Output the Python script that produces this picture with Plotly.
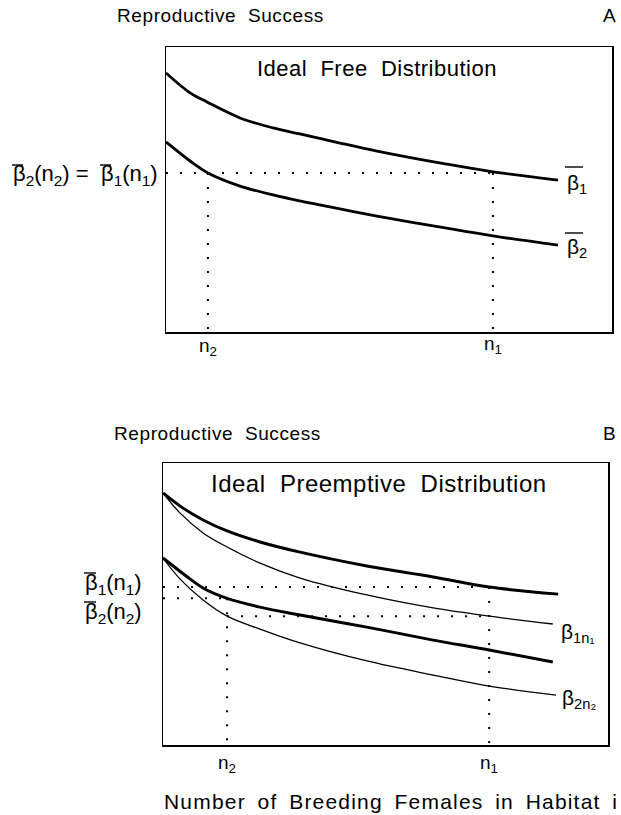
import plotly.graph_objects as go

W, H = 621, 815
FONT = "Liberation Sans, Arial, Helvetica, sans-serif"
NB = "\u00a0"

# ---------------- Panel A: Ideal Free Distribution ----------------
a_x_upper = [0, 5.4, 9.2, 16.6, 24.0, 30.0, 39.0, 47.3, 62.6, 73.3, 87.9]
a_y_upper = [90.9, 83.9, 80.7, 75.1, 71.6, 69.5, 66.3, 63.5, 59.0, 56.2, 53.3]
a_x_lower = [0, 5.4, 9.4, 16.6, 24.0, 30.0, 39.0, 47.3, 62.6, 73.3, 87.9]
a_y_lower = [66.7, 60.0, 55.8, 51.2, 48.1, 46.0, 43.2, 40.7, 36.5, 33.7, 30.5]
a_n2, a_n1 = 9.4, 73.3
a_level = 55.8

# ---------------- Panel B: Ideal Preemptive Distribution ----------------
b_x_mean1 = [0, 4.5, 9.0, 14.4, 21.8, 30.8, 45.8, 60.7, 73.3, 88.8]
b_y_mean1 = [89.4, 84.0, 79.8, 75.9, 72.0, 68.4, 63.5, 59.6, 56.0, 53.5]
b_x_marg1 = [0, 3.8, 9.0, 14.4, 21.8, 30.8, 45.8, 60.7, 73.3, 87.6]
b_y_marg1 = [89.4, 82.3, 75.2, 70.2, 64.5, 59.2, 53.2, 48.6, 45.7, 42.9]
b_x_mean2 = [0, 4.9, 9.4, 14.4, 21.8, 30.8, 45.8, 60.7, 73.3, 87.6]
b_y_mean2 = [66.3, 60.3, 55.3, 52.0, 48.9, 46.1, 41.8, 37.2, 33.7, 29.4]
b_x_marg2 = [0, 3.8, 9.0, 14.4, 21.8, 30.8, 45.8, 60.7, 73.3, 88.3]
b_y_marg2 = [66.3, 58.9, 51.4, 45.7, 41.1, 36.2, 29.8, 24.8, 20.9, 17.7]
b_n2, b_n1 = 14.4, 73.3
b_level1 = 56.0   # mean beta1 at n1
b_level2 = 52.0   # mean beta2 at n2
b_level3 = 45.7   # marginal value at n1 / n2

x_tick_labels = ["n<sub>2</sub>", "n<sub>1</sub>"]


def pxx(p):
    return p / W


def pxy(p):
    return 1 - p / H


def spaced(t, ls, gap=NB + NB):
    t = t.replace(" ", gap)
    return '<span style="letter-spacing:%.1fpx">%s</span>' % (ls, t)


fig = go.Figure()

thick = dict(color="black", width=3)
thin = dict(color="black", width=1.3)
dot = dict(color="black", width=2, dash="2px,12px")


def add(x, y, line, ax, smooth=True):
    ln = dict(line)
    if smooth:
        ln.update(shape="spline", smoothing=1.0)
    fig.add_trace(go.Scatter(x=x, y=y, mode="lines", line=ln,
                             xaxis="x" + ax, yaxis="y" + ax, hoverinfo="skip", showlegend=False))


# Panel A curves
add(a_x_upper, a_y_upper, dict(thick, width=2.8), "")
add(a_x_lower, a_y_lower, dict(thick, width=2.8), "")
add([0, a_n1], [a_level, a_level], dot, "", False)
add([a_n2, a_n2], [a_level, 0], dot, "", False)
add([a_n1, a_n1], [a_level, 0], dot, "", False)

# Panel B curves
add(b_x_mean1, b_y_mean1, thick, "2")
add(b_x_marg1, b_y_marg1, thin, "2")
add(b_x_mean2, b_y_mean2, thick, "2")
add(b_x_marg2, b_y_marg2, thin, "2")
add([0, b_n1], [b_level1, b_level1], dot, "2", False)
add([0, b_n2], [b_level2, b_level2], dot, "2", False)
add([b_n2, b_n1], [b_level3, b_level3], dot, "2", False)
add([b_n2, b_n2], [b_level2, 0], dot, "2", False)
add([b_n1, b_n1], [b_level1, 0], dot, "2", False)

axis_common = dict(range=[0, 100], showgrid=False, zeroline=False, showticklabels=False,
                   ticks="", showline=True, mirror=True, linecolor="black", linewidth=1.5, fixedrange=True)

fig.update_layout(
    width=W, height=H,
    margin=dict(l=0, r=0, t=0, b=0),
    paper_bgcolor="white", plot_bgcolor="white",
    font=dict(family=FONT, color="black"),
    xaxis=dict(axis_common, domain=[pxx(166), pxx(612)], anchor="y"),
    yaxis=dict(axis_common, domain=[pxy(332), pxy(47)], anchor="x"),
    xaxis2=dict(axis_common, domain=[pxx(163), pxx(608)], anchor="y2"),
    yaxis2=dict(axis_common, domain=[pxy(745), pxy(463)], anchor="x2"),
)

ann = []
shapes = []


def text(t, x, y, size, xanchor="center", yanchor="middle", xref="paper", yref="paper"):
    ann.append(dict(text=t, x=x, y=y, xref=xref, yref=yref, xanchor=xanchor, yanchor=yanchor,
                    showarrow=False, font=dict(family=FONT, size=size, color="black")))


def bar(x0, x1, y):
    shapes.append(dict(type="line", xref="paper", yref="paper", x0=pxx(x0), x1=pxx(x1),
                       y0=pxy(y), y1=pxy(y), line=dict(color="black", width=1.4)))


# Panel A texts
text(spaced("Reproductive Success", 0.6), pxx(115), pxy(15), 19, xanchor="left")
text("A", pxx(618), pxy(15), 19, xanchor="right")
text(spaced("Ideal Free Distribution", 0.5), pxx(377), pxy(69), 22)
text("β<sub>2</sub>(n<sub>2</sub>)" + NB + "=", pxx(11), pxy(175), 22, xanchor="left")
text("β<sub>1</sub>(n<sub>1</sub>)", pxx(99), pxy(175), 22, xanchor="left")
bar(12, 23, 165)
bar(100, 111, 165)
text("β<sub>1</sub>", pxx(565), pxy(184), 21, xanchor="left")
text("β<sub>2</sub>", pxx(565), pxy(248), 21, xanchor="left")
bar(565, 583, 167)
bar(565, 583, 233)
text(x_tick_labels[0], a_n2, pxy(347), 19, xref="x", yref="paper")
text(x_tick_labels[1], a_n1, pxy(345), 19, xref="x", yref="paper")

# Panel B texts
text(spaced("Reproductive Success", 0.6), pxx(112), pxy(433), 19, xanchor="left")
text("B", pxx(618), pxy(433), 19, xanchor="right")
text(spaced("Ideal Preemptive Distribution", 0.5), pxx(379), pxy(483), 24)
text("β<sub>1</sub>(n<sub>1</sub>)", pxx(83), pxy(584), 22, xanchor="left")
text("β<sub>2</sub>(n<sub>2</sub>)", pxx(83), pxy(613), 22, xanchor="left")
bar(84, 96, 573)
bar(84, 96, 602)
text("β<sub>1n₁</sub>", pxx(559), pxy(633), 21, xanchor="left")
text("β<sub>2n₂</sub>", pxx(560), pxy(699), 21, xanchor="left")
text(x_tick_labels[0], b_n2, pxy(764), 19, xref="x2", yref="paper")
text(x_tick_labels[1], b_n1, pxy(764), 19, xref="x2", yref="paper")
text(spaced("Number of Breeding Females in Habitat i", 1.2, "\u2002"), pxx(162), pxy(801), 21, xanchor="left")

fig.update_layout(annotations=ann, shapes=shapes)
fig.write_html(
    "out.html",
    config={"displayModeBar": False, "staticPlot": True},
    post_script="document.body.style.margin='0px';document.body.style.overflow='hidden';",
)
